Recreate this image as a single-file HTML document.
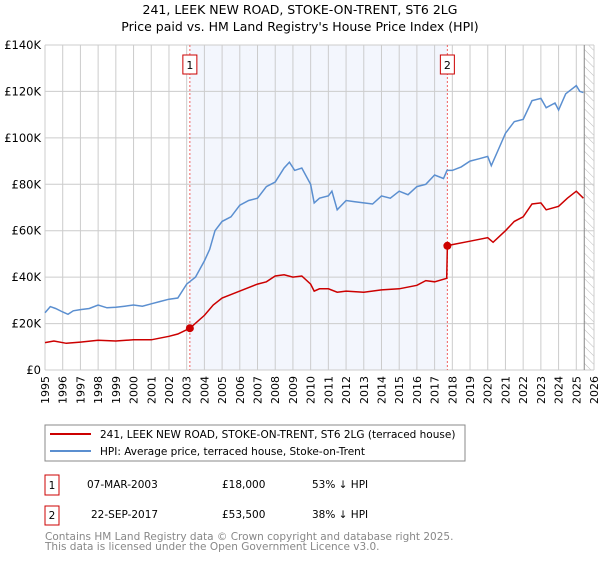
<!DOCTYPE html>
<html><head><meta charset="utf-8"><style>
body{margin:0;background:#fff;font-family:"Liberation Sans","DejaVu Sans",sans-serif;}
svg text{font-family:"DejaVu Sans","Liberation Sans",sans-serif;}
</style></head><body>
<svg id="c" width="600" height="560" xmlns="http://www.w3.org/2000/svg">
<defs><pattern id="hatch" width="6" height="6" patternUnits="userSpaceOnUse" patternTransform="rotate(-45)"><line x1="0" y1="0" x2="0" y2="6" stroke="#bbb" stroke-width="1"/></pattern></defs>
<text x="300" y="14" text-anchor="middle" font-size="12.5" fill="#000">241, LEEK NEW ROAD, STOKE-ON-TRENT, ST6 2LG</text>
<text x="300" y="31" text-anchor="middle" font-size="12.5" fill="#000">Price paid vs. HM Land Registry's House Price Index (HPI)</text>
<g id="plot"></g>
<rect x="45" y="425" width="420" height="36" fill="#fff" stroke="#888"/>
<line x1="50" y1="434" x2="91" y2="434" stroke="#cc0000" stroke-width="2"/>
<text x="100" y="438" font-size="10.5">241, LEEK NEW ROAD, STOKE-ON-TRENT, ST6 2LG (terraced house)</text>
<line x1="50" y1="451" x2="91" y2="451" stroke="#5b8fd0" stroke-width="2"/>
<text x="100" y="455" font-size="10.5">HPI: Average price, terraced house, Stoke-on-Trent</text>
<rect x="45" y="475" width="14" height="20" fill="#fff" stroke="#cc0000"/>
<text x="52" y="489" font-size="10.5" text-anchor="middle">1</text>
<text x="87" y="488" font-size="10.5">07-MAR-2003</text>
<text x="222" y="488" font-size="10.5">£18,000</text>
<text x="312" y="488" font-size="10.5">53% ↓ HPI</text>
<rect x="45" y="506" width="14" height="19" fill="#fff" stroke="#cc0000"/>
<text x="52" y="519" font-size="10.5" text-anchor="middle">2</text>
<text x="91" y="518" font-size="10.5">22-SEP-2017</text>
<text x="222" y="518" font-size="10.5">£53,500</text>
<text x="312" y="518" font-size="10.5">38% ↓ HPI</text>
<text x="45" y="540" font-size="10.5" fill="#888">Contains HM Land Registry data © Crown copyright and database right 2025.</text>
<text x="45" y="550" font-size="10.5" fill="#888">This data is licensed under the Open Government Licence v3.0.</text>
</svg>
<script>
const yTicks=[0,20,40,60,80,100,120,140];
const yTickLabels=["£0","£20K","£40K","£60K","£80K","£100K","£120K","£140K"];
const xYears=[1995,1996,1997,1998,1999,2000,2001,2002,2003,2004,2005,2006,2007,2008,2009,2010,2011,2012,2013,2014,2015,2016,2017,2018,2019,2020,2021,2022,2023,2024,2025,2026];
const hpiT=[1995,1995.3,1995.6,1996,1996.3,1996.6,1997,1997.5,1998,1998.5,1999,1999.5,2000,2000.5,2001,2001.5,2002,2002.5,2003,2003.5,2004,2004.3,2004.6,2005,2005.5,2006,2006.5,2007,2007.5,2008,2008.5,2008.8,2009.1,2009.5,2010,2010.2,2010.5,2011,2011.2,2011.5,2012,2012.5,2013,2013.5,2014,2014.5,2015,2015.5,2016,2016.5,2017,2017.5,2017.7,2018,2018.5,2019,2019.5,2020,2020.2,2020.6,2021,2021.5,2022,2022.5,2023,2023.3,2023.8,2024,2024.4,2025,2025.2,2025.4];
const hpiV=[24.7,27.3,26.5,25,24,25.5,26,26.5,28,26.8,27,27.5,28,27.5,28.5,29.5,30.5,31,37,40,47,52,60,64,66,71,73,74,79,81,87,89.5,86,87,80,72,74,75,77,69,73,72.5,72,71.5,75,74,77,75.5,79,80,84,82.5,86,86,87.5,90,91,92,88,95,102,107,108,116,117,113,115,112,119,122.5,120,119.5];
const priceT=[1995,1995.5,1996.2,1997,1998,1999,2000,2001,2002,2002.5,2003.18,2004,2004.5,2005,2006,2007,2007.5,2008,2008.5,2009,2009.5,2010,2010.2,2010.5,2011,2011.5,2012,2013,2014,2015,2016,2016.5,2017,2017.68,2017.72,2018,2019,2020,2020.3,2021,2021.5,2022,2022.5,2023,2023.3,2024,2024.5,2025,2025.4];
const priceV=[11.8,12.5,11.5,12,12.8,12.5,13,13,14.5,15.5,18,23.5,28,31,34,37,38,40.5,41,40,40.5,37,34,35,35,33.5,34,33.5,34.5,35,36.5,38.5,38,39.5,53.5,54,55.5,57,55,60,64,66,71.5,72,69,70.5,74,77,74];
const sales=[[2003.18,18],[2017.72,53.5]];
const x0=45,x1=594,y0=370,y1=45;
const X=t=>x0+(t-1995)/(2026-1995)*(x1-x0);
const Y=v=>y0-v/140*(y0-y1);
const ns="http://www.w3.org/2000/svg",g=document.getElementById('plot');
function mk(tag,a){const e=document.createElementNS(ns,tag);for(const k in a)e.setAttribute(k,a[k]);g.appendChild(e);return e;}
let e;
e=mk('rect',{x:X(sales[0][0]),y:y1,width:X(sales[1][0])-X(sales[0][0]),height:y0-y1,fill:'#f3f6fd'});


e=mk('rect',{x:X(2025.45),y:y1,width:x1-X(2025.45),height:y0-y1,fill:'url(#hatch)'});


xYears.forEach(yr=>{e=mk('line',{x1:X(yr),x2:X(yr),y1:y1,y2:y0,stroke:'#ccc'});


e=mk('text',{x:0,y:0,'font-size':11,'text-anchor':'end',transform:`translate(${X(yr)+4},${y0+6}) rotate(-90)`});e.textContent=yr;

});
yTicks.forEach((v,i)=>{e=mk('line',{x1:x0,x2:x1,y1:Y(v),y2:Y(v),stroke:'#ccc'});


e=mk('text',{x:x0-4,y:Y(v)+4,'font-size':11.5,'text-anchor':'end'});e.textContent=yTickLabels[i];

});
e=mk('line',{x1:X(2025.45),x2:X(2025.45),y1:y1,y2:y0,stroke:'#888'});


sales.forEach((s,i)=>{e=mk('line',{x1:X(s[0]),x2:X(s[0]),y1:y1,y2:y0,stroke:'#f06060','stroke-dasharray':'2,2'});


e=mk('rect',{x:X(s[0])-7,y:55,width:14,height:19,fill:'#fff',stroke:'#cc0000'});


e=mk('text',{x:X(s[0]),y:69,'font-size':11,'text-anchor':'middle'});e.textContent=i+1;

});
const pts=(T,V)=>T.map((t,i)=>X(t).toFixed(1)+','+Y(V[i]).toFixed(1)).join(' ');
e=mk('polyline',{points:pts(hpiT,hpiV),fill:'none',stroke:'#5b8fd0','stroke-width':1.5});


e=mk('polyline',{points:pts(priceT,priceV),fill:'none',stroke:'#cc0000','stroke-width':1.5});


sales.forEach(s=>{e=mk('circle',{cx:X(s[0]),cy:Y(s[1]),r:4,fill:'#cc0000'});

});
</script>
</body></html>
